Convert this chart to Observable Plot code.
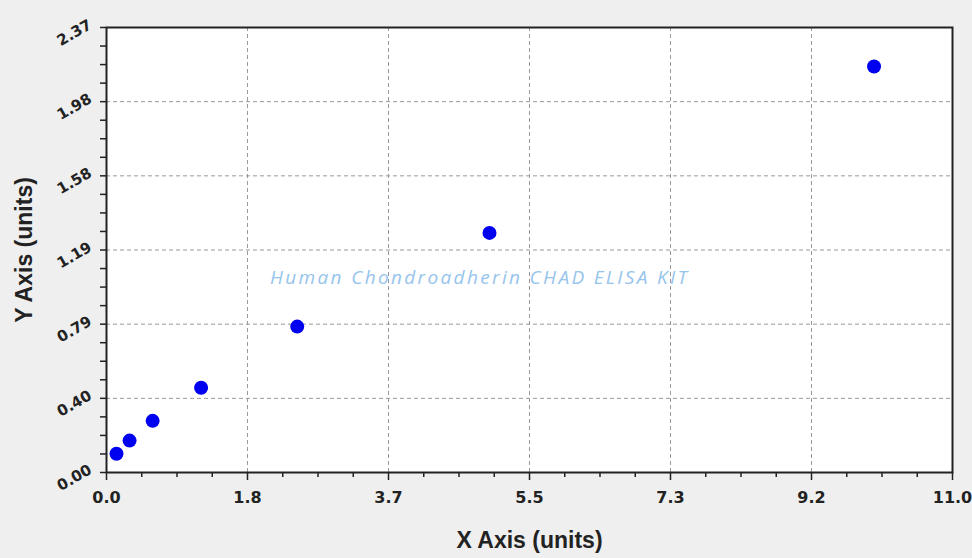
<!DOCTYPE html>
<html>
<head>
<meta charset="utf-8">
<script src="https://cdn.jsdelivr.net/npm/d3@7"></script>
<script src="https://cdn.jsdelivr.net/npm/@observablehq/plot@0.6"></script>
<style>
  html, body { margin: 0; padding: 0; background: #efefef; }
  #chart svg { display: block; }
</style>
</head>
<body>
<div id="chart"></div>
<script>
// Data
const xValues = [0.13, 0.30, 0.60, 1.23, 2.48, 4.98, 9.98];
const yValues = [0.100, 0.170, 0.275, 0.451, 0.777, 1.276, 2.162];

// Axis ticks
const xTicks = [0, 1.8333, 3.6667, 5.5, 7.3333, 9.1667, 11];
const xTickLabels = ["0.0", "1.8", "3.7", "5.5", "7.3", "9.2", "11.0"];
const yTicks = [0, 0.395, 0.79, 1.185, 1.58, 1.975, 2.37];
const yTickLabels = ["0.00", "0.40", "0.79", "1.19", "1.58", "1.98", "2.37"];

const xTitle = "X Axis (units)";
const yTitle = "Y Axis (units)";
const watermark = "Human Chondroadherin CHAD ELISA KIT";

const points = xValues.map((x, i) => ({x, y: yValues[i]}));

// minor ticks: 4 subdivisions per major interval
function minors(ticks) {
  const out = [];
  for (let i = 0; i < ticks.length - 1; i++) {
    const step = (ticks[i + 1] - ticks[i]) / 4;
    for (let k = 1; k < 4; k++) out.push(ticks[i] + k * step);
  }
  return out;
}
const xMinor = minors(xTicks);
const yMinor = minors(yTicks);

const labelFont = "DejaVu Sans, Verdana, sans-serif";
const titleFont = "Liberation Sans, Arial, sans-serif";

const chart = Plot.plot({
  width: 972,
  height: 558,
  marginLeft: 106,
  marginRight: 20,
  marginTop: 27,
  marginBottom: 86,
  style: {background: "#efefef", overflow: "visible"},
  x: {domain: [0, 11], axis: null},
  y: {domain: [0, 2.37], axis: null},
  marks: [
    Plot.frame({fill: "white", stroke: "none"}),
    Plot.gridX(xTicks.slice(1, -1), {stroke: "#999", strokeOpacity: 1, strokeDasharray: "4,3"}),
    Plot.gridY(yTicks.slice(1, -1), {stroke: "#999", strokeOpacity: 1, strokeDasharray: "4,3"}),
    Plot.text([watermark], {
      text: d => d, frameAnchor: "middle", dx: -51, dy: 28,
      textAnchor: "middle", lineAnchor: "middle",
      fill: "#96c4ec", fontSize: 19, fontStyle: "italic",
      fontFamily: "Open Sans, DejaVu Sans, sans-serif"
    }),
    // ticks
    Plot.axisX(xTicks, {anchor: "bottom", tickSize: 8, tickFormat: () => "", label: null, stroke: "#222", strokeWidth: 1.5}),
    Plot.axisX(xMinor, {anchor: "bottom", tickSize: 5, tickFormat: () => "", label: null, stroke: "#222", strokeWidth: 1.5}),
    Plot.axisY(yTicks, {anchor: "left", tickSize: 6, tickFormat: () => "", label: null, stroke: "#222", strokeWidth: 1.5}),
    Plot.axisY(yMinor, {anchor: "left", tickSize: 6, tickFormat: () => "", label: null, stroke: "#222", strokeWidth: 1.5}),
    Plot.frame({stroke: "#222", strokeWidth: 2}),
    Plot.dot(points, {x: "x", y: "y", r: 7, fill: "#0000f0", stroke: "none"}),
    // tick labels
    Plot.text(xTicks, {
      x: d => d, text: (d, i) => xTickLabels[i], frameAnchor: "bottom", dy: 25,
      textAnchor: "middle", lineAnchor: "middle",
      fontSize: 16, fontWeight: "bold", fontFamily: labelFont, fill: "#222"
    }),
    Plot.text(yTicks, {
      y: d => d, text: (d, i) => yTickLabels[i], frameAnchor: "left", dx: -16, dy: -4,
      rotate: -30, textAnchor: "end", lineAnchor: "middle",
      fontSize: 15, fontWeight: "bold", fontFamily: labelFont, fill: "#222"
    }),
    // axis titles
    Plot.text([xTitle], {
      text: d => d, frameAnchor: "bottom", dy: 68,
      textAnchor: "middle", lineAnchor: "middle",
      fontSize: 23, fontWeight: "bold", fontFamily: titleFont, fill: "#222"
    }),
    Plot.text([yTitle], {
      text: d => d, frameAnchor: "left", dx: -82, rotate: -90,
      textAnchor: "middle", lineAnchor: "middle",
      fontSize: 23, fontWeight: "bold", fontFamily: titleFont, fill: "#222"
    })
  ]
});

document.getElementById("chart").appendChild(chart);

// stretch the watermark to its width in the reference
d3.select(chart).selectAll("text").filter(function() { return this.textContent === watermark; })
  .attr("textLength", 417).attr("lengthAdjust", "spacing");
</script>
</body>
</html>
